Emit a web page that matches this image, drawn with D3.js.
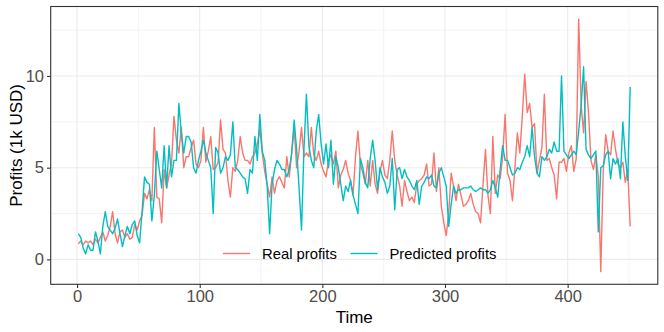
<!DOCTYPE html>
<html>
<head>
<meta charset="utf-8">
<script src="https://cdn.jsdelivr.net/npm/d3@7"></script>
<style>
  body { margin: 0; background: #fff; }
  text { font-family: "Liberation Sans", Arial, sans-serif; }
</style>
</head>
<body>
<script>
// time index (every 2nd period)
const time = d3.range(1, 452, 2)

const realProfits = [
  0.85,1.0,0.8,1.0,0.9,1.0,0.8,1.1,0.9,1.2,
  1.5,1.0,1.3,1.8,2.6,1.4,0.9,1.5,1.6,1.2,
  1.4,1.1,1.2,1.9,1.6,2.1,2.4,3.6,3.3,3.8,
  3.2,7.2,3.4,3.3,2.0,4.9,3.9,4.6,5.2,7.8,
  6.5,5.8,7.2,5.0,5.6,5.6,6.1,6.5,5.2,5.0,
  5.4,7.2,5.3,5.9,6.7,4.9,5.0,5.3,7.6,6.0,
  5.8,4.3,3.4,5.0,4.8,5.4,6.7,5.8,5.4,5.4,
  5.2,5.6,5.8,6.3,7.1,5.8,4.8,4.1,3.4,4.5,
  3.6,4.3,4.5,4.2,3.9,5.6,4.5,5.8,7.2,5.0,
  5.9,7.2,5.6,5.8,5.6,7.2,5.7,5.4,5.9,5.2,
  4.8,4.5,5.4,5.7,5.2,5.9,3.9,4.6,4.9,5.4,
  4.7,4.3,3.5,5.6,7.0,5.2,4.7,4.1,5.4,4.0,
  5.4,4.1,3.6,4.8,5.4,4.6,4.4,5.4,7.0,5.4,
  4.6,4.0,2.9,4.3,3.7,3.2,3.4,3.1,4.1,4.3,
  4.4,4.6,5.2,4.0,4.1,5.8,3.7,5.0,2.9,2.0,
  1.3,2.5,4.7,4.0,3.2,4.1,3.5,2.9,3.0,3.2,
  3.6,3.0,2.6,2.5,2.0,4.1,6.0,3.5,2.5,6.7,
  3.6,4.6,4.4,5.6,7.9,4.7,4.3,3.2,5.0,6.9,
  5.8,7.8,10.1,8.0,8.5,7.2,7.4,4.7,5.4,6.1,
  9.0,5.4,5.5,5.0,4.6,3.3,5.3,5.3,5.5,4.8,
  5.8,6.2,4.8,5.5,13.1,8.4,6.9,9.7,8.0,5.4,
  4.9,5.7,4.5,-0.67,4.8,6.8,5.9,5.7,7.0,6.0,
  5.2,5.0,5.3,4.2,4.9,1.8
]

const predictedProfits = [
  1.4,1.2,0.6,0.3,0.8,0.5,0.5,1.5,1.0,0.3,
  1.8,2.6,1.8,1.6,1.4,1.7,2.2,1.4,0.7,1.3,
  1.8,1.4,1.9,2.1,1.3,0.9,2.6,4.5,4.2,4.1,
  2.1,3.5,5.9,4.9,3.9,6.2,3.9,6.2,4.5,5.4,
  5.4,8.5,6.9,5.8,6.7,6.7,6.4,5.0,4.7,5.4,
  5.9,6.5,5.8,5.4,5.0,2.5,6.1,5.8,4.7,5.0,
  5.6,5.4,5.7,7.5,5.0,4.9,4.7,4.5,4.4,3.6,
  4.9,4.7,6.7,5.4,7.9,5.9,5.4,4.0,1.4,4.1,
  4.9,5.4,5.2,4.9,4.9,4.5,4.9,5.8,7.6,6.0,
  3.9,1.6,6.0,9.0,6.2,5.4,5.0,7.0,7.9,6.3,
  5.2,6.3,5.0,6.5,4.1,5.6,5.0,4.1,3.2,4.0,
  3.7,4.3,3.5,3.0,2.5,5.5,5.0,4.2,3.9,5.5,
  6.5,5.4,3.8,5.0,4.5,4.2,3.6,4.0,5.5,2.7,
  4.9,5.0,4.4,4.9,4.5,4.3,4.0,3.8,4.3,3.0,
  4.0,4.2,4.5,4.4,4.6,4.0,3.9,4.7,5.0,4.5,
  4.0,1.8,3.0,4.0,3.6,3.8,3.8,3.9,3.9,3.9,
  4.0,3.8,3.7,3.8,3.9,3.8,3.8,3.6,3.8,4.3,
  3.9,3.4,4.9,6.2,5.4,5.4,5.0,4.6,4.7,5.0,
  4.9,5.3,5.6,6.2,5.6,7.2,5.6,4.7,4.5,5.6,
  5.4,5.6,6.0,5.8,6.4,5.9,5.9,10.0,5.9,5.7,
  5.5,5.7,5.9,5.7,7.0,8.4,10.5,6.0,5.7,5.5,
  5.7,5.9,1.5,5.0,5.1,5.7,5.9,4.4,5.5,5.2,
  5.5,4.4,7.5,5.6,4.3,9.4
]

const seriesNames = ['Real profits', 'Predicted profits']
const seriesColors = ['#F8766D', '#00BFC4']
const xTicks = [0, 100, 200, 300, 400]
const xMinor = [50, 150, 250, 350, 450]
const yTicks = [0, 5, 10]
const yMinor = [2.5, 7.5, 12.5]

const w = 664
const h = 332
const pLeft = 50.7, pRight = 657.8, pTop = 6.5, pBottom = 284.3

const svg = d3.select('body')
  .append('svg')
  .attr('width', w)
  .attr('height', h)

svg.append('rect').attr('width', w).attr('height', h).attr('fill', '#fff')

// ggplot-like 5% expansion
const xExt = d3.extent(time)
const xPad = (xExt[1] - xExt[0]) * 0.05
const allVals = realProfits.concat(predictedProfits)
const yExt = d3.extent(allVals)
const yPad = (yExt[1] - yExt[0]) * 0.05

const x = d3.scaleLinear().domain([xExt[0] - xPad, xExt[1] + xPad]).range([pLeft, pRight])
const y = d3.scaleLinear().domain([yExt[0] - yPad, yExt[1] + yPad]).range([pBottom, pTop])

const grid = svg.append('g')
grid.selectAll('.xminor').data(xMinor).enter().append('line')
  .attr('x1', d => x(d)).attr('x2', d => x(d)).attr('y1', pTop).attr('y2', pBottom)
  .attr('stroke', '#EBEBEB').attr('stroke-width', 0.6)
grid.selectAll('.yminor').data(yMinor).enter().append('line')
  .attr('y1', d => y(d)).attr('y2', d => y(d)).attr('x1', pLeft).attr('x2', pRight)
  .attr('stroke', '#EBEBEB').attr('stroke-width', 0.6)
grid.selectAll('.xmajor').data(xTicks).enter().append('line')
  .attr('x1', d => x(d)).attr('x2', d => x(d)).attr('y1', pTop).attr('y2', pBottom)
  .attr('stroke', '#EBEBEB').attr('stroke-width', 1.1)
grid.selectAll('.ymajor').data(yTicks).enter().append('line')
  .attr('y1', d => y(d)).attr('y2', d => y(d)).attr('x1', pLeft).attr('x2', pRight)
  .attr('stroke', '#EBEBEB').attr('stroke-width', 1.1)

const line = d3.line()
  .x((d, i) => x(time[i]))
  .y(d => y(d))

;[realProfits, predictedProfits].forEach((vals, k) => {
  svg.append('path')
    .datum(vals)
    .attr('d', line)
    .attr('fill', 'none')
    .attr('stroke', seriesColors[k])
    .attr('stroke-width', 1.4)
    .attr('stroke-linejoin', 'round')
})

// panel border
svg.append('rect')
  .attr('x', pLeft).attr('y', pTop)
  .attr('width', pRight - pLeft).attr('height', pBottom - pTop)
  .attr('fill', 'none').attr('stroke', '#333333').attr('stroke-width', 1.1)

// axes
const xAxis = svg.append('g')
  .attr('transform', `translate(0,${pBottom})`)
  .call(d3.axisBottom(x).tickValues(xTicks).tickSize(3.7).tickPadding(2))
const yAxis = svg.append('g')
  .attr('transform', `translate(${pLeft},0)`)
  .call(d3.axisLeft(y).tickValues(yTicks).tickSize(3.7).tickPadding(3))

;[xAxis, yAxis].forEach(g => {
  g.select('.domain').remove()
  g.selectAll('.tick line').attr('stroke', '#333333').attr('stroke-width', 1.1)
  g.selectAll('.tick text')
    .attr('fill', '#4D4D4D')
    .style('font-size', '16.5px')
    .style('font-family', '"Liberation Sans", Arial, sans-serif')
})

svg.append('text')
  .attr('x', (pLeft + pRight) / 2).attr('y', 323)
  .attr('text-anchor', 'middle')
  .style('font-size', '17px')
  .text('Time')

svg.append('text')
  .attr('transform', `translate(22,${(pTop + pBottom) / 2}) rotate(-90)`)
  .attr('text-anchor', 'middle')
  .style('font-size', '17px')
  .text('Profits (1k USD)')

// legend
const legendKeys = [223, 350.5]
const legend = svg.append('g')
seriesNames.forEach((name, k) => {
  legend.append('line')
    .attr('x1', legendKeys[k]).attr('x2', legendKeys[k] + 27)
    .attr('y1', 253.5).attr('y2', 253.5)
    .attr('stroke', seriesColors[k]).attr('stroke-width', 1.4)
  legend.append('text')
    .attr('x', legendKeys[k] + 39).attr('y', 258.8)
    .style('font-size', '14.8px')
    .attr('fill', '#000')
    .text(name)
})
</script>
</body>
</html>
